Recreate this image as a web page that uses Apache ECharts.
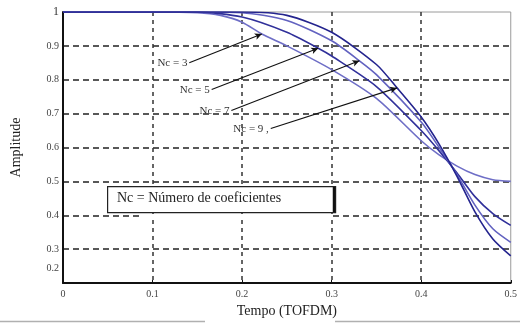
<!DOCTYPE html>
<html>
<head>
<meta charset="utf-8">
<script src="https://cdn.jsdelivr.net/npm/echarts@6/dist/echarts.min.js"></script>
<style>
html,body{margin:0;padding:0;background:#fff;}
#chart{width:520px;height:323px;}
</style>
</head>
<body>
<div id="chart"></div>
<script>
// ---- data ----
const xTicks = [0, 0.1, 0.2, 0.3, 0.4, 0.5];
const yTicks = [0.2, 0.3, 0.4, 0.5, 0.6, 0.7, 0.8, 0.9, 1];

const tNc3 = [0, 0.05, 0.1, 0.15, 0.176, 0.2, 0.222, 0.25, 0.3, 0.35, 0.4, 0.42, 0.44, 0.46, 0.48, 0.5];
const vNc3 = [1, 1, 1, 0.998, 0.99, 0.97, 0.935, 0.9, 0.83, 0.745, 0.62, 0.578, 0.545, 0.52, 0.505, 0.5];

const tNc5 = [0, 0.1, 0.15, 0.2, 0.25, 0.285, 0.3, 0.35, 0.4, 0.42, 0.44, 0.46, 0.48, 0.5];
const vNc5 = [1, 1, 1, 0.985, 0.94, 0.893, 0.87, 0.78, 0.65, 0.59, 0.525, 0.455, 0.405, 0.37];

const tNc7 = [0, 0.1, 0.15, 0.2, 0.25, 0.3, 0.331, 0.35, 0.4, 0.42, 0.44, 0.46, 0.48, 0.5];
const vNc7 = [1, 1, 1, 0.998, 0.975, 0.915, 0.856, 0.815, 0.675, 0.6, 0.52, 0.43, 0.36, 0.32];

const tNc9 = [0, 0.1, 0.15, 0.2, 0.25, 0.3, 0.35, 0.373, 0.4, 0.42, 0.44, 0.46, 0.48, 0.5];
const vNc9 = [1, 1, 1, 1, 0.99, 0.94, 0.845, 0.776, 0.69, 0.61, 0.515, 0.41, 0.33, 0.28];

const seriesNames = ['Nc = 3', 'Nc = 5', 'Nc = 7', 'Nc = 9 ,'];
// annotation arrows: [label start], [arrow tip] in data units
const arrowStarts = [[0.141, 0.85], [0.166, 0.771], [0.188, 0.709], [0.232, 0.656]];
const arrowTips = [[0.222, 0.935], [0.285, 0.893], [0.331, 0.856], [0.373, 0.776]];

const legendText = 'Nc = Número de coeficientes';
const xName = 'Tempo (TOFDM)';
const yName = 'Amplitude';

// ---- build ----
const curves = [[tNc3, vNc3], [tNc5, vNc5], [tNc7, vNc7], [tNc9, vNc9]];
const colors = ['#6e6ec6', '#30309a', '#6262c0', '#24248e'];
const serif = '"Liberation Serif", "DejaVu Serif", serif';

const series = curves.map((c, i) => ({
  type: 'line',
  name: seriesNames[i],
  data: c[0].map((t, k) => [t, c[1][k]]),
  showSymbol: false,
  smooth: 0.25,
  lineStyle: { color: colors[i], width: 1.6 },
  z: 3,
  markLine: {
    silent: true,
    symbol: ['none', 'arrow'],
    symbolSize: [5, 7],
    lineStyle: { color: '#111', width: 1.1, type: 'solid' },
    label: {
      show: true, position: 'start', distance: 2,
      formatter: seriesNames[i],
      fontFamily: serif, fontSize: 11, color: '#333'
    },
    data: [[{ coord: arrowStarts[i] }, { coord: arrowTips[i] }]]
  }
}));

const chart = echarts.init(document.getElementById('chart'), null, { renderer: 'canvas' });
chart.setOption({
  backgroundColor: '#fff',
  animation: false,
  grid: { left: 63, right: 7, top: 12, bottom: 39, show: true, borderColor: '#9a9a9a', borderWidth: 1, backgroundColor: 'transparent' },
  xAxis: {
    type: 'value', min: xTicks[0], max: xTicks[xTicks.length - 1], interval: 0.1,
    name: xName, nameLocation: 'middle', nameGap: 21,
    nameTextStyle: { fontFamily: serif, fontSize: 14, color: '#222' },
    axisLine: { show: true, lineStyle: { color: '#111', width: 2 } },
    axisTick: { show: true, inside: true, length: 3, lineStyle: { color: '#111' } },
    axisLabel: { fontFamily: serif, fontSize: 10, color: '#444', margin: 6,
      formatter: v => (Math.abs(v) < 1e-9 ? '0' : v.toFixed(1)) },
    splitLine: { show: true, showMinLine: false, showMaxLine: false,
      lineStyle: { color: '#333', width: 1.5, type: [4, 4] } }
  },
  yAxis: {
    type: 'value', min: yTicks[0], max: yTicks[yTicks.length - 1], interval: 0.1,
    name: yName, nameLocation: 'middle', nameGap: 40,
    nameTextStyle: { fontFamily: serif, fontSize: 14, color: '#222' },
    axisLine: { show: true, lineStyle: { color: '#111', width: 2 } },
    axisTick: { show: false },
    axisLabel: { fontFamily: serif, fontSize: 10, color: '#444', margin: 4,
      formatter: v => {
        if (Math.abs(v - 1) < 1e-9) return '{one|1}';
        if (Math.abs(v - 0.2) < 1e-9) return '{lo|0.2}';
        return v.toFixed(1);
      },
      rich: {
        lo: { fontFamily: serif, fontSize: 10, color: '#444', padding: [0, 0, 30, 0] },
        one: { fontFamily: serif, fontSize: 12, color: '#333' }
      }
    },
    splitLine: { show: true, showMinLine: false, showMaxLine: false,
      lineStyle: { color: '#222', width: 1.5, type: [6, 4] } }
  },
  graphic: [
    { type: 'rect', left: 140, top: 214, shape: { width: 193, height: 5 }, style: { fill: '#fff' }, z: 2 },
    { type: 'rect', left: 107, top: 186, shape: { width: 228, height: 26 },
      style: { fill: '#fff', stroke: '#222', lineWidth: 1.2 }, z: 10 },
    { type: 'line', shape: { x1: 334, y1: 187, x2: 334, y2: 212 }, style: { stroke: '#111', lineWidth: 2.5 }, z: 11 },
    { type: 'text', left: 117, top: 191, style: { text: legendText, font: '14px ' + serif, fill: '#222' }, z: 11 },
    { type: 'line', shape: { x1: 0, y1: 321.5, x2: 205, y2: 321.5 }, style: { stroke: '#b0b0b0', lineWidth: 1.5 }, z: 1 },
    { type: 'line', shape: { x1: 335, y1: 321.5, x2: 520, y2: 321.5 }, style: { stroke: '#b0b0b0', lineWidth: 1.5 }, z: 1 }
  ],
  series: series
});
</script>
</body>
</html>
